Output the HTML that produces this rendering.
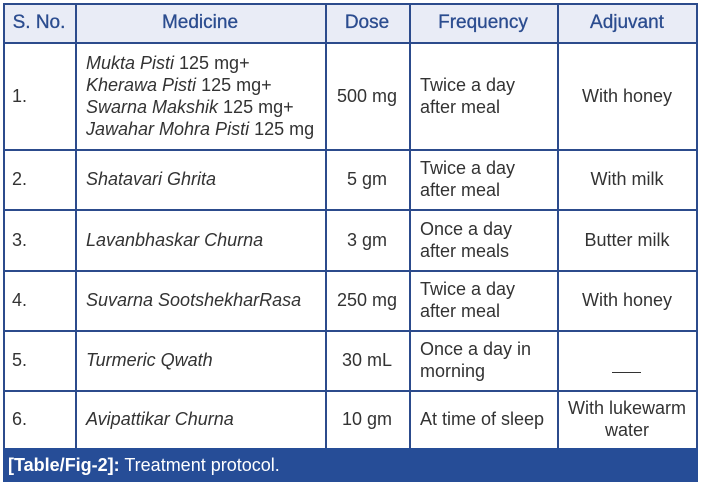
<!DOCTYPE html>
<html><head><style>
body{margin:0;width:702px;height:486px;background:#fff;position:relative;overflow:hidden;font-family:"Liberation Sans",sans-serif;}
.h{position:absolute;left:3px;top:3px;width:694px;height:39px;background:#e9ecf6;}
.vl{position:absolute;width:1.5px;background:#2c4b8c;top:3px;height:445px;}
.hl{position:absolute;height:1.5px;background:#2c4b8c;left:3px;width:695px;}
.t{position:absolute;display:flex;align-items:center;font-size:18px;color:#333;line-height:22px;}
.c{justify-content:center;text-align:center;}
.hd{color:#2b4c8f;font-size:19px;-webkit-text-stroke:0.3px #2b4c8f;}
i{font-style:italic;}
.f{position:absolute;left:3px;top:448px;width:695px;height:34px;background:#264d97;color:#fff;font-size:18px;line-height:34px;}
</style></head><body>
<div class="h"></div>
<div class="hl" style="top:3px"></div>
<div class="hl" style="top:42px"></div>
<div class="hl" style="top:149px"></div>
<div class="hl" style="top:209px"></div>
<div class="hl" style="top:270px"></div>
<div class="hl" style="top:330px"></div>
<div class="hl" style="top:390px"></div>
<div class="vl" style="left:3px"></div>
<div class="vl" style="left:75px"></div>
<div class="vl" style="left:325px"></div>
<div class="vl" style="left:409px"></div>
<div class="vl" style="left:557px"></div>
<div class="vl" style="left:696px"></div>

<div class="t c hd" style="left:3px;width:72px;top:3px;height:39px">S. No.</div>
<div class="t c hd" style="left:75px;width:250px;top:3px;height:39px">Medicine</div>
<div class="t c hd" style="left:325px;width:84px;top:3px;height:39px">Dose</div>
<div class="t c hd" style="left:409px;width:148px;top:3px;height:39px">Frequency</div>
<div class="t c hd" style="left:557px;width:140px;top:3px;height:39px">Adjuvant</div>

<div class="t" style="left:12px;top:42px;height:107px">1.</div>
<div class="t" style="left:86px;top:42px;height:107px"><div><i>Mukta Pisti</i> 125 mg+<br><i>Kherawa Pisti</i> 125 mg+<br><i>Swarna Makshik</i> 125 mg+<br><i>Jawahar Mohra Pisti</i> 125 mg</div></div>
<div class="t c" style="left:325px;width:84px;top:42px;height:107px">500 mg</div>
<div class="t" style="left:420px;top:42px;height:107px">Twice a day<br>after meal</div>
<div class="t c" style="left:557px;width:140px;top:42px;height:107px">With honey</div>

<div class="t" style="left:12px;top:149px;height:60px">2.</div>
<div class="t" style="left:86px;top:149px;height:60px"><i>Shatavari Ghrita</i></div>
<div class="t c" style="left:325px;width:84px;top:149px;height:60px">5 gm</div>
<div class="t" style="left:420px;top:149px;height:60px">Twice a day<br>after meal</div>
<div class="t c" style="left:557px;width:140px;top:149px;height:60px">With milk</div>

<div class="t" style="left:12px;top:209px;height:61px">3.</div>
<div class="t" style="left:86px;top:209px;height:61px"><i>Lavanbhaskar Churna</i></div>
<div class="t c" style="left:325px;width:84px;top:209px;height:61px">3 gm</div>
<div class="t" style="left:420px;top:209px;height:61px">Once a day<br>after meals</div>
<div class="t c" style="left:557px;width:140px;top:209px;height:61px">Butter milk</div>

<div class="t" style="left:12px;top:270px;height:60px">4.</div>
<div class="t" style="left:86px;top:270px;height:60px"><i>Suvarna SootshekharRasa</i></div>
<div class="t c" style="left:325px;width:84px;top:270px;height:60px">250 mg</div>
<div class="t" style="left:420px;top:270px;height:60px">Twice a day<br>after meal</div>
<div class="t c" style="left:557px;width:140px;top:270px;height:60px">With honey</div>

<div class="t" style="left:12px;top:330px;height:60px">5.</div>
<div class="t" style="left:86px;top:330px;height:60px"><i>Turmeric Qwath</i></div>
<div class="t c" style="left:325px;width:84px;top:330px;height:60px">30 mL</div>
<div class="t" style="left:420px;top:330px;height:60px">Once a day in<br>morning</div>
<div style="position:absolute;left:612px;top:372px;width:29px;height:1px;background:#333"></div>

<div class="t" style="left:12px;top:390px;height:58px">6.</div>
<div class="t" style="left:86px;top:390px;height:58px"><i>Avipattikar Churna</i></div>
<div class="t c" style="left:325px;width:84px;top:390px;height:58px">10 gm</div>
<div class="t" style="left:420px;top:390px;height:58px">At time of sleep</div>
<div class="t c" style="left:557px;width:140px;top:390px;height:58px">With lukewarm<br>water</div>

<div class="f">&nbsp;<b>[Table/Fig-2]:</b> Treatment protocol.</div>
</body></html>
